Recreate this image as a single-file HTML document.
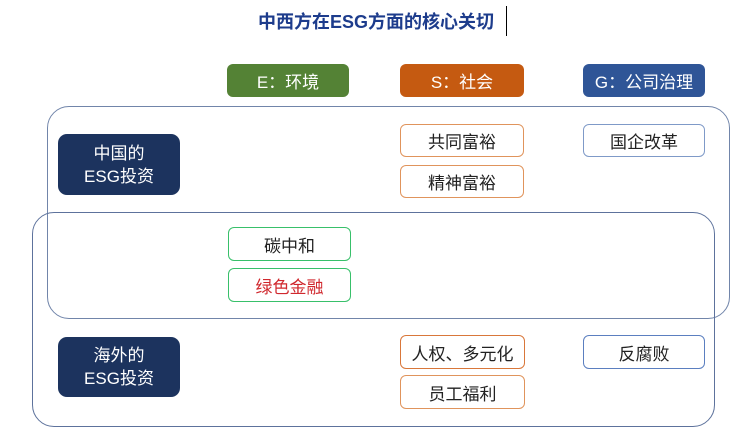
<!DOCTYPE html>
<html><head><meta charset="utf-8"><style>
html,body{margin:0;padding:0;background:#fff;width:750px;height:439px;overflow:hidden;position:relative;font-family:"Liberation Sans","Noto Sans CJK SC",sans-serif;}
.b{position:absolute;box-sizing:border-box;display:flex;align-items:center;justify-content:center;text-align:center;border-radius:6px;font-size:17px;color:#222;background:#fff;}
.big{position:absolute;box-sizing:border-box;border:1.5px solid #7185aa;border-radius:22px;}
.hd{color:#fff;font-size:17px;}
.dk{background:#1c335e;color:#fff;border-radius:9px;line-height:23px;font-size:17px;}
.o{border:1.5px solid #e0945c;}
.g{border:1.5px solid #38c06a;}
.bl{border:1.5px solid #7f9ac8;}
</style></head><body>
<div style="position:absolute;left:0;width:752px;top:8px;text-align:center;font-weight:bold;font-size:18px;color:#1d3c8c;">中西方在ESG方面的核心关切</div>
<div style="position:absolute;left:506px;top:6px;width:1px;height:30px;background:#000;"></div>

<div class="big" style="left:47px;top:106px;width:683px;height:213px;"></div>
<div class="big" style="left:32px;top:212px;width:683px;height:215px;border-color:#5d729c;"></div>

<div class="b hd" style="left:227px;top:64px;width:122px;height:33px;background:#548235;">E：环境</div>
<div class="b hd" style="left:400px;top:64px;width:124px;height:33px;background:#c55a11;">S：社会</div>
<div class="b hd" style="left:583px;top:64px;width:122px;height:33px;background:#2f5597;">G：公司治理</div>

<div class="b dk" style="left:58px;top:134px;width:122px;height:61px;">中国的<br>ESG投资</div>
<div class="b o" style="left:400px;top:124px;width:124px;height:33px;">共同富裕</div>
<div class="b o" style="left:400px;top:165px;width:124px;height:33px;">精神富裕</div>
<div class="b bl" style="left:583px;top:124px;width:122px;height:33px;">国企改革</div>

<div class="b g" style="left:228px;top:227px;width:123px;height:34px;">碳中和</div>
<div class="b g" style="left:228px;top:268px;width:123px;height:34px;color:#d0282e;">绿色金融</div>

<div class="b dk" style="left:58px;top:337px;width:122px;height:60px;">海外的<br>ESG投资</div>
<div class="b o" style="left:400px;top:335px;width:125px;height:34px;border-color:#d9773a;">人权、多元化</div>
<div class="b o" style="left:400px;top:375px;width:125px;height:34px;">员工福利</div>
<div class="b bl" style="left:583px;top:335px;width:122px;height:34px;border-color:#5b7fc0;">反腐败</div>
</body></html>
